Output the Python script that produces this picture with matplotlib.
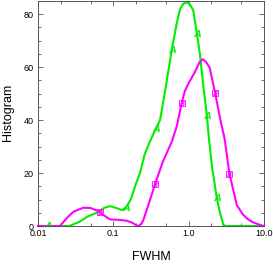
import matplotlib
matplotlib.use("Agg")
import matplotlib.pyplot as plt
from matplotlib.ticker import LogLocator, FixedLocator, MultipleLocator, NullFormatter

plt.rcParams["font.family"] = ["Liberation Sans", "DejaVu Sans"]

# curve A (green)
fwhm_a = [0.01, 0.026, 0.035, 0.045, 0.06, 0.075, 0.09, 0.11, 0.13, 0.147,
          0.17, 0.2, 0.226, 0.26, 0.307, 0.37, 0.417, 0.5, 0.6, 0.7,
          0.77, 0.85, 0.96, 1.05, 1.15, 1.28, 1.41, 1.58, 1.74, 1.86,
          2.05, 2.35, 2.6, 2.89, 3.1, 10.0]
hist_a = [0, 0, 1.5, 3.5, 5, 6.8, 7.5, 6.8, 6, 7,
          10, 16, 20, 27, 32, 37, 40, 53, 67, 77,
          82, 84, 84.5, 83.5, 81.5, 73, 65, 52, 42, 33,
          22, 11, 5, 0.4, 0, 0]
mark_a_x = [0.0137, 0.147, 0.37, 0.6, 1.28, 1.74, 2.35]
mark_a_y = [0.5, 7, 37, 67, 73, 42, 11]

# curve B (magenta)
fwhm_b = [0.01, 0.0196, 0.025, 0.03, 0.04, 0.05, 0.066, 0.075, 0.09, 0.12,
          0.15, 0.18, 0.2, 0.215, 0.235, 0.25, 0.3, 0.36, 0.45, 0.6,
          0.7, 0.81, 0.89, 1.0, 1.2, 1.4, 1.54, 1.7, 1.9, 2.24,
          2.65, 3.0, 3.47, 4.36, 5.2, 5.9, 7.0, 8.9, 10.0]
hist_b = [0, 0, 3.5, 5.5, 6.9, 6.8, 5.4, 4, 2.5, 2.3,
          2, 1.2, 0.3, 0, 0.8, 2.2, 9, 16, 24, 32,
          38, 46.6, 51, 54, 58, 62, 63, 62, 59.8, 50.4,
          39.8, 33, 19.8, 7.9, 4.5, 2.9, 1.5, 0.4, 0]
mark_b_x = [0.066, 0.36, 0.81, 2.24, 3.47]
mark_b_y = [5.4, 16, 46.6, 50.4, 19.8]

x_ticks = [0.01, 0.1, 1.0, 10.0]
x_labels = ["0.01", "0.1", "1.0", "10.0"]

GREEN = "#00ee00"
MAGENTA = "#ff00ff"

fig = plt.figure(figsize=(2.73, 2.64), dpi=100)
ax = fig.add_axes([38 / 273, 1 - 226 / 264, 226 / 273, 225 / 264])

ax.plot(fwhm_a, hist_a, color=GREEN, lw=1.5, clip_on=False)
ax.plot(fwhm_b, hist_b, color=MAGENTA, lw=1.5, clip_on=False)
ax.plot(mark_a_x, mark_a_y, ls="none", marker="$A$", ms=5, color=GREEN, mew=0.3)
ax.plot(mark_b_x, mark_b_y, ls="none", marker="s", ms=5, mfc="none", mec=MAGENTA, mew=0.6)
ax.plot(mark_b_x, mark_b_y, ls="none", marker="$B$", ms=3.5, color=MAGENTA, mew=0.2)

ax.set_xscale("log")
ax.set_xlim(0.01, 10)
ax.set_ylim(0, 85)
ax.xaxis.set_major_locator(FixedLocator(x_ticks))
ax.set_xticklabels(x_labels)
ax.xaxis.set_minor_locator(LogLocator(base=10, subs=(2, 5)))
ax.xaxis.set_minor_formatter(NullFormatter())
ax.yaxis.set_major_locator(MultipleLocator(20))
ax.yaxis.set_minor_locator(MultipleLocator(5))

ax.tick_params(which="both", direction="in", top=True, right=True,
               labelsize=6.5, width=0.6, color="#555555")
ax.tick_params(which="major", length=3.6)
ax.tick_params(which="minor", length=2)
ax.tick_params(axis="x", pad=2)
ax.tick_params(axis="y", pad=3)
for s in ax.spines.values():
    s.set_linewidth(0.7)
    s.set_color("#555555")

fig.text(8 / 273, 1 - 112 / 264, "Histogram", rotation=90, ha="center", va="center", fontsize=9)
fig.text(151 / 273, 1 - 257 / 264, "FWHM", ha="center", va="center", fontsize=9)

fig.savefig("out.png", dpi=100)
